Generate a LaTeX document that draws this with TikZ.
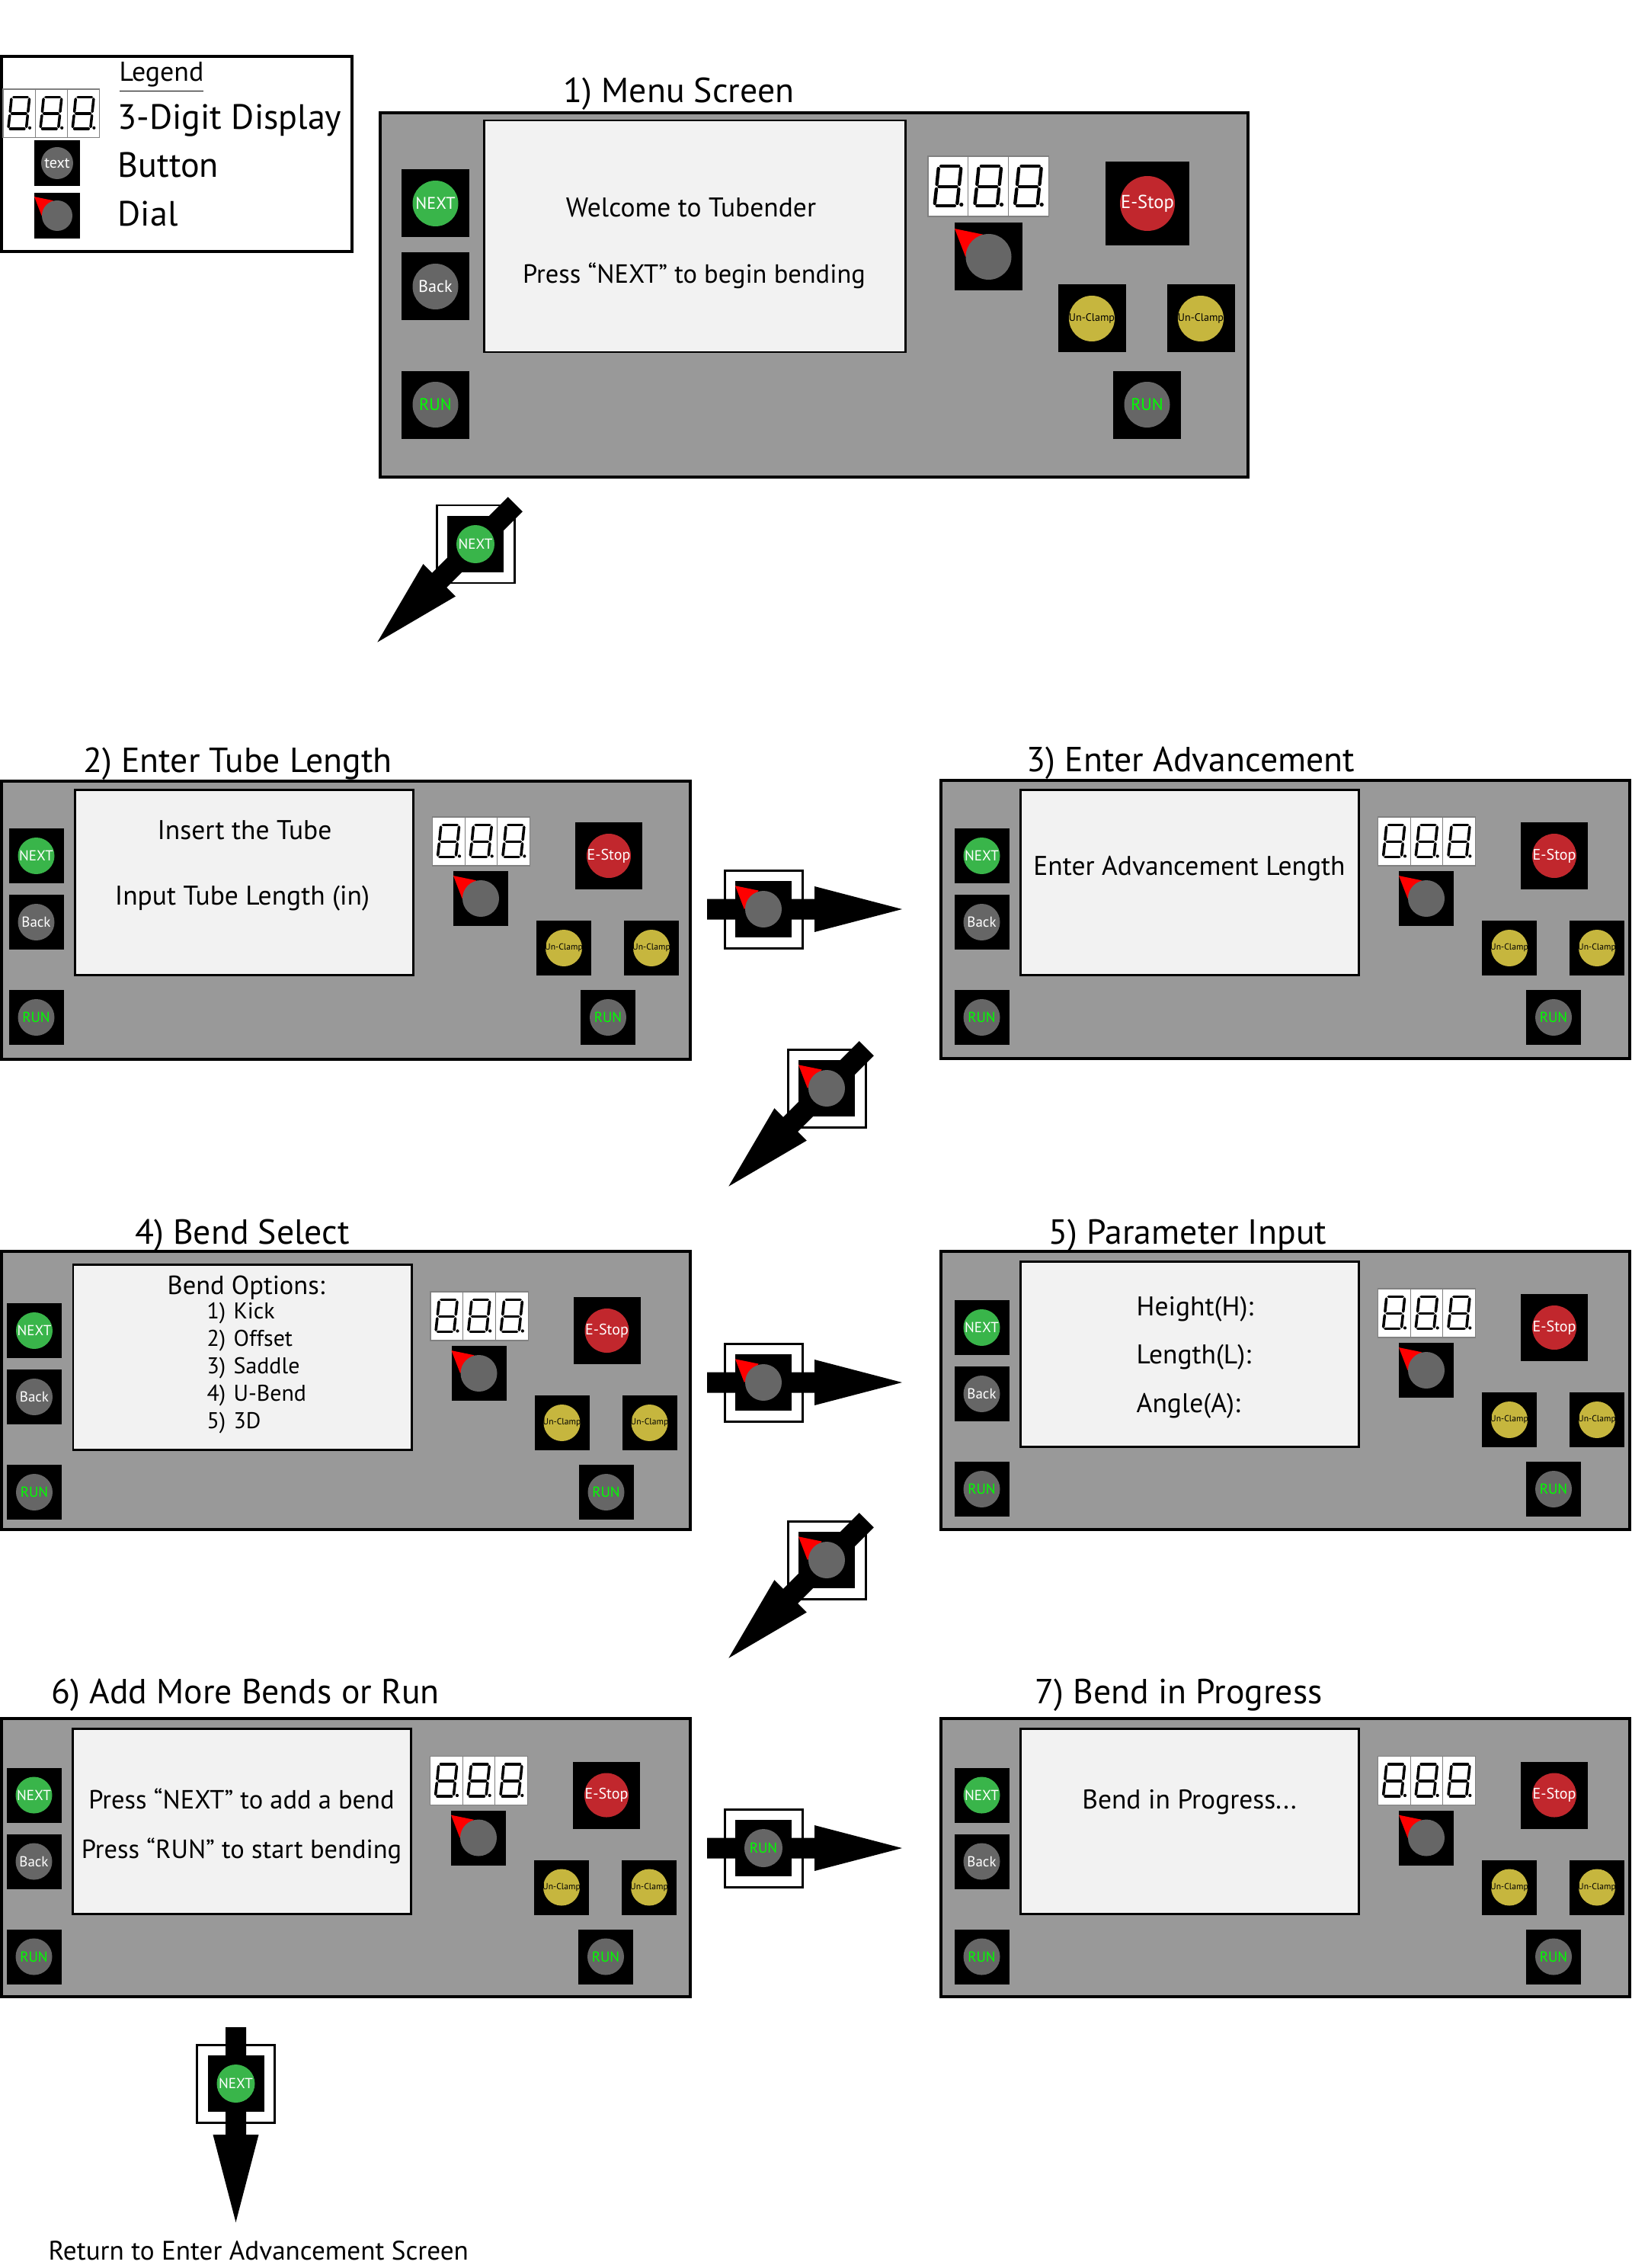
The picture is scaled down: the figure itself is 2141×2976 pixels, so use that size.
\documentclass[tikz,border=0pt]{standalone}
\usepackage{fontspec}
\setmainfont{PT Sans}
\definecolor{panelgray}{HTML}{999999}
\definecolor{screenbg}{HTML}{F2F2F2}
\definecolor{nextgreen}{HTML}{39B54A}
\definecolor{btngray}{HTML}{666666}
\definecolor{rungreen}{HTML}{00FF00}
\definecolor{estopred}{HTML}{C1272D}
\definecolor{ucyellow}{HTML}{C6B63E}
\definecolor{dialred}{HTML}{FF0000}
\newcommand{\fBtnL}{\fontsize{6.3}{7}\selectfont}
\newcommand{\fEstopL}{\fontsize{7}{8}\selectfont}
\newcommand{\fUcL}{\fontsize{4}{5}\selectfont}
\newcommand{\fBtnS}{\fontsize{5.4}{6}\selectfont}
\newcommand{\fEstopS}{\fontsize{5.7}{6.5}\selectfont}
\newcommand{\fUcS}{\fontsize{3.3}{4}\selectfont}
\newcommand{\fLeg}{\fontsize{13.1}{15.5}\selectfont}
\newcommand{\fLegT}{\fontsize{10.2}{12}\selectfont}
\newcommand{\fLegBtn}{\fontsize{5.7}{6.5}\selectfont}
\tikzset{
  btnlabel/.style={inner sep=0pt, outer sep=0pt},
  digseg/.style={line width={1.25pt*#1}, line cap=round, shorten <={0.9pt*#1}, shorten >={0.9pt*#1}},
  titletext/.style={anchor=base, inner sep=0pt, font=\fontsize{13}{15}\selectfont},
  scrtext/.style={anchor=base, inner sep=0pt, font=\fontsize{10.1}{12}\selectfont},
  scrtextq/.style={anchor=base, inner sep=0pt, font=\fontsize{9.8}{12}\selectfont},
  itemtext/.style={anchor=base west, inner sep=0pt, font=\fontsize{8.5}{10}\selectfont},
  panelrect/.style={fill=panelgray, draw=black, line width=1.1pt},
  screenrect/.style={fill=screenbg, draw=black, line width=0.85pt},
}
% button: name, cx, cy, half side, radius, fill, text colour, label, font
\newcommand{\tbButton}[9]{%
  \fill[black] (#2-#4,#3-#4) rectangle (#2+#4,#3+#4);
  \fill[#6] (#2,#3) circle[radius=#5];
  \node[btnlabel, text=#7, font=#9] (#1) at (#2,#3) {#8};
}
% dial: name, cx, cy, half side, radius
\newcommand{\tbDial}[5]{%
  \fill[black] (#2-#4,#3-#4) rectangle (#2+#4,#3+#4);
  \fill[dialred] (#2-#4,#3-0.83*#4) -- (#2-0.17*#4,#3-0.66*#4) -- (#2-0.68*#4,#3) -- cycle;
  \fill[btngray] (#2,#3) circle[radius=#5];
  \coordinate (#1) at (#2,#3);
}
% one seven-segment cell: x0, y0, scale
\newcommand{\tbDigit}[3]{%
  \filldraw[fill=white, draw=gray, line width=0.3pt] (#1,#2) rectangle ({#1+52.7*#3},{#2+79*#3});
  \coordinate (dA) at ({#1+14*#3},{#2+13*#3});
  \coordinate (dB) at ({#1+43.5*#3},{#2+13*#3});
  \coordinate (dD) at ({#1+11.3*#3},{#2+40*#3});
  \coordinate (dC) at ({#1+40.7*#3},{#2+40*#3});
  \coordinate (dF) at ({#1+8.5*#3},{#2+65*#3});
  \coordinate (dE) at ({#1+38*#3},{#2+65*#3});
  \foreach \p/\q in {dA/dB,dB/dC,dC/dE,dE/dF,dF/dD,dD/dA,dD/dC}{\draw[digseg=#3] (\p) -- (\q);}
  \fill ({#1+43.8*#3},{#2+63.5*#3}) circle[radius={2.6*#3}];
}
\newcommand{\tbDisplay}[3]{%
  \foreach \k in {0,1,2}{\tbDigit{#1+\k*52.7*#3}{#2}{#3}}
}
% small panel: prefix, x0, y0, NEXT centre x, NEXT centre y
\newcommand{\tbPanelS}[5]{%
  \filldraw[panelrect] (#2,#3) rectangle ++(904,365);
  \tbButton{#1next}{#4}{#5}{36}{24}{nextgreen}{white}{NEXT}{\fBtnS}
  \tbButton{#1back}{#4}{#5+87}{36}{24}{btngray}{white}{Back}{\fBtnS}
  \tbButton{#1runl}{#4}{#5+212}{36}{24}{btngray}{rungreen}{RUN}{\fBtnS}
  \filldraw[screenrect] (#4+51,#5-87) rectangle (#4+495,#5+156);
  \tbDisplay{#4+520}{#5-51}{0.81}
  \tbDial{#1dial}{#4+583.5}{#5+56}{36}{24}
  \tbButton{#1estop}{#4+751.5}{#5}{44}{29}{estopred}{white}{E-Stop}{\fEstopS}
  \tbButton{#1ucA}{#4+692.5}{#5+121}{36}{24}{ucyellow}{black}{Un-Clamp}{\fUcS}
  \tbButton{#1ucB}{#4+807.5}{#5+121}{36}{24}{ucyellow}{black}{Un-Clamp}{\fUcS}
  \tbButton{#1runr}{#4+750.5}{#5+212}{36}{24}{btngray}{rungreen}{RUN}{\fBtnS}
}
% flow arrow with framed control: name, cx, cy, angle
\newcommand{\tbFlow}[4]{%
  \filldraw[fill=white, draw=black, line width=0.85pt] (#2-51,#3-51) rectangle (#2+51,#3+51);
  \fill[black, rotate around={#4:(#2,#3)}] (#2-74,#3-13.5) -- (#2+67,#3-13.5) -- (#2+67,#3-30) -- (#2+182,#3) -- (#2+67,#3+30) -- (#2+67,#3+13.5) -- (#2-74,#3+13.5) -- cycle;
  \fill[black] (#2-37,#3-37) rectangle (#2+37,#3+37);
  \coordinate (#1) at (#2,#3);
}
\begin{document}
\begin{tikzpicture}[x=0.01cm, y=-0.01cm]
\useasboundingbox (0,0) rectangle (2141,2976);
\fill[white] (0,0) rectangle (2141,2976);

% ---------------- legend
\draw[line width=1.1pt] (2,74) rectangle (462,330);
\node[anchor=base, inner sep=0pt, font=\fLegT] (legtitle) at (212,107) {\underline{Legend}};
\tbDisplay{4}{117}{0.8}
\node[anchor=base west, inner sep=0pt, font=\fLeg] (legdisp) at (154,170) {3-Digit Display};
\tbButton{legbtn}{75}{214}{30}{21}{btngray}{white}{text}{\fLegBtn}
\node[anchor=base west, inner sep=0pt, font=\fLeg] (legbutton) at (154,233) {Button};
\tbDial{legdial}{75}{283}{30}{20}
\node[anchor=base west, inner sep=0pt, font=\fLeg] (legdialt) at (154,297) {Dial};

% ---------------- panel 1
\node[titletext] (t1) at (891,135) {1) Menu Screen};
\filldraw[panelrect] (499,148) rectangle (1638,626);
\tbButton{pAnext}{571.5}{267}{44.5}{30}{nextgreen}{white}{NEXT}{\fBtnL}
\tbButton{pAback}{571.5}{376}{44.5}{30}{btngray}{white}{Back}{\fBtnL}
\tbButton{pArunl}{571.5}{531}{44.5}{30}{btngray}{rungreen}{RUN}{\fBtnL}
\filldraw[screenrect] (635,158) rectangle (1188,462);
\tbDisplay{1218}{205}{1}
\tbDial{pAdial}{1297.5}{337}{44.5}{30}
\tbButton{pAestop}{1506}{267}{55}{36}{estopred}{white}{E-Stop}{\fEstopL}
\tbButton{pAucA}{1433}{418}{44.5}{30}{ucyellow}{black}{Un-Clamp}{\fUcL}
\tbButton{pAucB}{1576}{418}{44.5}{30}{ucyellow}{black}{Un-Clamp}{\fUcL}
\tbButton{pArunr}{1505.5}{531}{44.5}{30}{btngray}{rungreen}{RUN}{\fBtnL}
\node[scrtext] (s1a) at (907,285) {Welcome to Tubender};
\node[scrtextq] (s1b) at (911,372) {Press “NEXT” to begin bending};

% ---------------- panels 2..7
\node[titletext] (t2) at (312,1013) {2) Enter Tube Length};
\tbPanelS{pB}{2}{1025}{47.5}{1123}
\node[scrtext] (s2a) at (321,1101) {Insert the Tube};
\node[scrtext] (s2b) at (318,1187) {Input Tube Length (in)};

\node[titletext] (t3) at (1563,1012) {3) Enter Advancement};
\tbPanelS{pC}{1235}{1024}{1288.5}{1123}
\node[scrtext] (s3a) at (1561,1148) {Enter Advancement Length};

\node[titletext] (t4) at (318,1632) {4) Bend Select};
\tbPanelS{pD}{2}{1642}{45}{1746}
\node[anchor=base, inner sep=0pt, font=\fontsize{9.8}{11}\selectfont] (s4h) at (323,1698) {Bend Options:};
\node[itemtext] (s4n1) at (271,1730) {1)};
\node[itemtext] (s4i1) at (306,1730) {Kick};
\node[itemtext] (s4n2) at (271,1766) {2)};
\node[itemtext] (s4i2) at (306,1766) {Offset};
\node[itemtext] (s4n3) at (271,1802) {3)};
\node[itemtext] (s4i3) at (306,1802) {Saddle};
\node[itemtext] (s4n4) at (271,1838) {4)};
\node[itemtext] (s4i4) at (306,1838) {U-Bend};
\node[itemtext] (s4n5) at (271,1874) {5)};
\node[itemtext] (s4i5) at (306,1874) {3D};

\node[titletext] (t5) at (1559,1632) {5) Parameter Input};
\tbPanelS{pE}{1235}{1642}{1288.5}{1742}
\node[scrtext, anchor=base west] (s5a) at (1491,1726) {Height(H):};
\node[scrtext, anchor=base west] (s5b) at (1491,1789) {Length(L):};
\node[scrtext, anchor=base west] (s5c) at (1491,1853) {Angle(A):};

\node[titletext] (t6) at (322,2235) {6) Add More Bends or Run};
\tbPanelS{pF}{2}{2255}{44.5}{2355.5}
\node[scrtextq] (s6a) at (317,2373) {Press “NEXT” to add a bend};
\node[scrtextq] (s6b) at (317,2438) {Press “RUN” to start bending};

\node[titletext] (t7) at (1547,2235) {7) Bend in Progress};
\tbPanelS{pG}{1235}{2255}{1288.5}{2355.5}
\node[scrtext] (s7a) at (1561,2373) {Bend in Progress...};

% ---------------- flow arrows
\tbFlow{fA}{624}{714}{-135}
\tbButton{fAbtn}{624}{714}{37}{25}{nextgreen}{white}{NEXT}{\fBtnS}

\tbFlow{fB}{1002}{1193}{0}
\tbDial{fBdial}{1002}{1193}{37}{24}

\tbFlow{fC}{1085}{1428}{-135}
\tbDial{fCdial}{1085}{1428}{37}{24}

\tbFlow{fD}{1002}{1814}{0}
\tbDial{fDdial}{1002}{1814}{37}{24}

\tbFlow{fE}{1085}{2047}{-135}
\tbDial{fEdial}{1085}{2047}{37}{24}

\tbFlow{fF}{1002}{2425}{0}
\tbButton{fFbtn}{1002}{2425}{37}{25}{btngray}{rungreen}{RUN}{\fBtnS}

\tbFlow{fG}{309.5}{2734}{-90}
\tbButton{fGbtn}{309.5}{2734}{37}{25}{nextgreen}{white}{NEXT}{\fBtnS}
\node[anchor=base west, inner sep=0pt, font=\fontsize{10}{12}\selectfont] (ret) at (63,2965) {Return to Enter Advancement Screen};
\end{tikzpicture}
\end{document}
